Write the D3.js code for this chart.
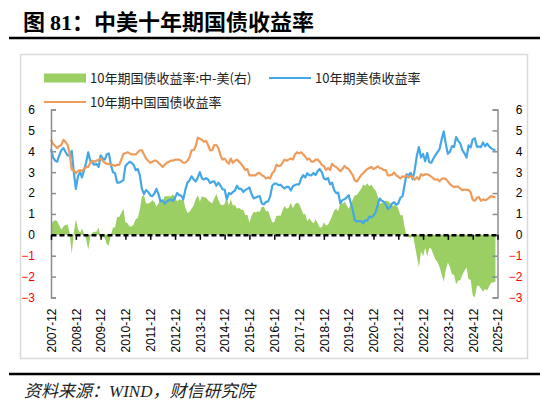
<!DOCTYPE html>
<html>
<head>
<meta charset="utf-8">
<script src="https://cdn.jsdelivr.net/npm/d3@7/dist/d3.min.js"></script>
<style>
  html, body { margin: 0; padding: 0; background: #fff; }
  svg { display: block; }
</style>
</head>
<body>
<div id="chart"></div>
<script>
// monthly readings, 2007-12 .. 2025-11
const us10y = [
  4.10,
  3.70, 3.55, 3.50, 3.80, 4.05, 4.15, 3.98, 3.80, 3.80, 4.02, 3.00, 2.20,
  2.80, 3.00, 2.75, 3.10, 3.45, 3.95, 3.55, 3.45, 3.35, 3.40, 3.25, 3.80,
  3.65, 3.60, 3.85, 3.90, 3.35, 3.00, 2.95, 2.50, 2.50, 2.55, 2.62, 3.30,
  3.40, 3.50, 3.45, 3.35, 3.10, 3.15, 2.85, 2.20, 1.95, 2.15, 2.05, 1.90,
  1.85, 1.98, 2.20, 1.95, 1.60, 1.65, 1.50, 1.60, 1.65, 1.70, 1.62, 1.78,
  2.00, 1.90, 1.88, 1.70, 2.15, 2.50, 2.60, 2.80, 2.65, 2.55, 2.75, 3.00,
  2.70, 2.65, 2.72, 2.65, 2.48, 2.55, 2.56, 2.35, 2.50, 2.35, 2.18, 2.17,
  1.70, 2.00, 1.95, 2.05, 2.12, 2.35, 2.20, 2.20, 2.05, 2.15, 2.20, 2.27,
  1.95, 1.75, 1.78, 1.83, 1.85, 1.50, 1.46, 1.58, 1.60, 1.83, 2.35, 2.45,
  2.45, 2.38, 2.40, 2.30, 2.22, 2.30, 2.30, 2.12, 2.33, 2.38, 2.42, 2.41,
  2.70, 2.86, 2.74, 2.95, 2.86, 2.85, 2.96, 2.86, 3.05, 3.15, 3.00, 2.70,
  2.65, 2.72, 2.42, 2.50, 2.14, 2.00, 2.02, 1.50, 1.67, 1.70, 1.78, 1.90,
  1.52, 1.15, 0.70, 0.64, 0.65, 0.66, 0.55, 0.70, 0.68, 0.87, 0.84, 0.92,
  1.08, 1.42, 1.74, 1.63, 1.58, 1.46, 1.24, 1.31, 1.50, 1.56, 1.44, 1.51,
  1.78, 1.84, 2.34, 2.90, 2.84, 2.97, 2.66, 3.13, 3.80, 4.20, 3.70, 3.87,
  3.52, 3.92, 3.48, 3.45, 3.64, 3.82, 3.96, 4.10, 4.58, 4.95, 4.35, 3.88,
  3.98, 4.25, 4.20, 4.68, 4.50, 4.38, 4.05, 3.90, 3.70, 4.28, 4.18, 4.57,
  4.62, 4.22, 4.23, 4.20, 4.42, 4.24, 4.37, 4.23, 4.14, 4.08, 4.05
];

const cn10y = [
  4.55,
  4.35, 4.25, 4.15, 4.25, 4.30, 4.55, 4.45, 4.30, 3.90, 3.12, 3.10, 2.95,
  3.05, 3.10, 3.05, 3.15, 3.25, 3.25, 3.45, 3.55, 3.50, 3.55, 3.60, 3.65,
  3.55, 3.45, 3.40, 3.40, 3.35, 3.35, 3.30, 3.35, 3.35, 3.60, 3.88, 3.90,
  3.95, 3.90, 3.85, 3.85, 3.85, 3.95, 4.05, 4.05, 3.85, 3.65, 3.55, 3.45,
  3.50, 3.55, 3.55, 3.45, 3.35, 3.25, 3.35, 3.45, 3.50, 3.55, 3.55, 3.60,
  3.60, 3.60, 3.55, 3.45, 3.45, 3.55, 3.70, 4.05, 4.05, 4.25, 4.65, 4.60,
  4.55, 4.45, 4.50, 4.30, 4.05, 4.05, 4.30, 4.30, 4.15, 3.80, 3.60, 3.65,
  3.50, 3.40, 3.65, 3.45, 3.55, 3.60, 3.50, 3.40, 3.25, 3.10, 3.15, 2.85,
  2.85, 2.85, 2.85, 2.95, 2.95, 2.85, 2.80, 2.70, 2.75, 2.70, 2.95, 3.05,
  3.35, 3.30, 3.30, 3.45, 3.60, 3.55, 3.60, 3.65, 3.60, 3.85, 3.95, 3.90,
  3.95, 3.85, 3.75, 3.60, 3.65, 3.50, 3.50, 3.60, 3.60, 3.50, 3.35, 3.30,
  3.10, 3.20, 3.10, 3.40, 3.30, 3.25, 3.15, 3.05, 3.15, 3.30, 3.20, 3.15,
  3.00, 2.85, 2.60, 2.55, 2.70, 2.85, 2.95, 3.05, 3.15, 3.20, 3.25, 3.15,
  3.20, 3.28, 3.20, 3.17, 3.10, 3.10, 2.85, 2.85, 2.88, 2.98, 2.85, 2.78,
  2.70, 2.80, 2.78, 2.84, 2.74, 2.82, 2.76, 2.64, 2.76, 2.65, 2.90, 2.84,
  2.90, 2.90, 2.86, 2.78, 2.70, 2.64, 2.66, 2.56, 2.68, 2.70, 2.68, 2.56,
  2.43, 2.35, 2.29, 2.31, 2.31, 2.21, 2.14, 2.17, 2.15, 2.15, 2.03, 1.68,
  1.63, 1.77, 1.81, 1.63, 1.70, 1.65, 1.70, 1.78, 1.86, 1.80, 1.82
];

const xTickLabels = ['2007-12', '2008-12', '2009-12', '2010-12', '2011-12', '2012-12',
  '2013-12', '2014-12', '2015-12', '2016-12', '2017-12', '2018-12', '2019-12',
  '2020-12', '2021-12', '2022-12', '2023-12', '2024-12', '2025-12'];
const yTicks = [-3, -2, -1, 0, 1, 2, 3, 4, 5, 6];

const legendItems = [
  { label: '10年期国债收益率:中-美(右)', type: 'area' },
  { label: '10年期美债收益率', type: 'us' },
  { label: '10年期中国国债收益率', type: 'cn' }
];

const colors = {
  spread: '#9BCE63',
  us: '#45A7E6',
  cn: '#EE9C5C',
  axis: '#8C8C8C',
  neg: '#FF0000'
};

const W = 550, H = 403;
const plot = { left: 51, right: 497.5, top: 109.5, bottom: 297.5 };

const parseMonth = d3.timeParse('%Y-%m');
const months = d3.timeMonth.range(parseMonth('2007-12'), parseMonth('2025-12'));

// spread series is 中-美 by definition
const rows = months.map((d, i) => ({
  date: d,
  us: us10y[i],
  cn: cn10y[i],
  spread: cn10y[i] - us10y[i]
}));

const x = d3.scaleTime()
  .domain([parseMonth('2007-12'), parseMonth('2025-12')])
  .range([plot.left, plot.right]);

const y = d3.scaleLinear()
  .domain([-3, 6])
  .range([plot.bottom, plot.top]);

const svg = d3.select('#chart').append('svg')
  .attr('width', W)
  .attr('height', H);

const cjk = '"Noto Sans CJK SC", "Noto Sans", sans-serif';
const num = '"Liberation Sans", Arial, sans-serif';

// title
const title = svg.append('text')
  .attr('x', 23)
  .attr('y', 30)
  .style('font-family', cjk)
  .style('font-weight', 'bold')
  .style('font-size', '22px')
  .attr('fill', '#000');
title.append('tspan').text('图 ');
title.append('tspan').style('font-family', '"Liberation Serif", serif').text('81');
title.append('tspan').text('：中美十年期国债收益率');

svg.append('line')
  .attr('x1', 9).attr('x2', 540)
  .attr('y1', 38).attr('y2', 38)
  .attr('stroke', '#000')
  .attr('stroke-width', 2.5);

// chart frame
svg.append('rect')
  .attr('x', 20.5).attr('y', 54.5)
  .attr('width', 507).attr('height', 304)
  .attr('fill', '#fff')
  .attr('stroke', '#D9D9D9')
  .attr('stroke-width', 1.5);

// legend
const legend = svg.append('g')
  .style('font-family', cjk)
  .style('font-size', '13px');

const legendPos = [[44, 78], [269, 78], [44, 102]];

legendItems.forEach((item, i) => {
  const [lx, ly] = legendPos[i];
  const g = legend.append('g').attr('transform', `translate(${lx},${ly})`);
  if (item.type === 'area') {
    g.append('rect')
      .attr('x', 0).attr('y', -4.5)
      .attr('width', 42).attr('height', 9)
      .attr('fill', colors.spread);
  } else {
    g.append('line')
      .attr('x1', 0).attr('x2', 42)
      .attr('y1', 0).attr('y2', 0)
      .attr('stroke', colors[item.type])
      .attr('stroke-width', 2.2);
  }
  g.append('text')
    .attr('x', 46)
    .attr('y', 0)
    .attr('dy', '0.36em')
    .attr('fill', '#222')
    .text(item.label);
});

// spread area
const area = d3.area()
  .x(d => x(d.date))
  .y0(y(0))
  .y1(d => y(d.spread));

svg.append('path')
  .datum(rows)
  .attr('d', area)
  .attr('fill', colors.spread);

// lines
const lineUs = d3.line().x(d => x(d.date)).y(d => y(d.us));
const lineCn = d3.line().x(d => x(d.date)).y(d => y(d.cn));

svg.append('path')
  .datum(rows)
  .attr('d', lineUs)
  .attr('fill', 'none')
  .attr('stroke', colors.us)
  .attr('stroke-width', 2.2)
  .attr('stroke-linejoin', 'round');

svg.append('path')
  .datum(rows)
  .attr('d', lineCn)
  .attr('fill', 'none')
  .attr('stroke', colors.cn)
  .attr('stroke-width', 2.2)
  .attr('stroke-linejoin', 'round');

// y axes
function styleY(g) {
  g.select('.domain').attr('stroke', colors.axis).attr('stroke-width', 1.5);
  g.selectAll('.tick line').attr('stroke', colors.axis).attr('stroke-width', 1.5);
  g.selectAll('.tick text')
    .style('font-family', num)
    .style('font-size', '12px')
    .attr('fill', d => d < 0 ? colors.neg : '#000');
}

svg.append('g')
  .attr('transform', `translate(${plot.left},0)`)
  .call(d3.axisLeft(y).tickValues(yTicks).tickSizeInner(-5).tickSizeOuter(-5).tickPadding(16))
  .call(styleY);

svg.append('g')
  .attr('transform', `translate(${plot.right},0)`)
  .call(d3.axisRight(y).tickValues(yTicks).tickSizeInner(-5).tickSizeOuter(-5).tickPadding(25))
  .call(styleY)
  .call(g => g.selectAll('.tick text').attr('text-anchor', 'end'));

// zero line with year ticks
const yearDates = xTickLabels.map(parseMonth);

svg.append('g')
  .attr('transform', `translate(0,${y(0)})`)
  .call(d3.axisBottom(x).tickValues(yearDates).tickSize(5).tickSizeOuter(0).tickFormat(''))
  .call(g => g.select('.domain')
    .attr('stroke', '#000')
    .attr('stroke-width', 2.5)
    .attr('stroke-dasharray', '5,3'))
  .call(g => g.selectAll('.tick line').attr('stroke', '#000').attr('stroke-width', 1.5));

// rotated date labels under the plot
svg.append('g')
  .attr('transform', `translate(0,${plot.bottom})`)
  .call(d3.axisBottom(x).tickValues(yearDates).tickSize(0)
    .tickFormat((d, i) => xTickLabels[i]))
  .call(g => g.select('.domain').remove())
  .call(g => g.selectAll('.tick text')
    .attr('transform', 'rotate(-90)')
    .attr('x', -11)
    .attr('y', 0)
    .attr('dy', '0.36em')
    .attr('text-anchor', 'end')
    .attr('fill', '#000')
    .style('font-family', num)
    .style('font-size', '12px'));

// footer
svg.append('line')
  .attr('x1', 9).attr('x2', 540)
  .attr('y1', 374).attr('y2', 374)
  .attr('stroke', '#000')
  .attr('stroke-width', 2.5);

const source = svg.append('text')
  .attr('x', 24)
  .attr('y', 397)
  .style('font-family', cjk)
  .style('font-style', 'italic')
  .style('font-size', '17px')
  .attr('fill', '#222');
source.append('tspan').text('资料来源：');
source.append('tspan').style('font-family', '"Liberation Serif", serif').text('WIND');
source.append('tspan').text('，财信研究院');
</script>
</body>
</html>
